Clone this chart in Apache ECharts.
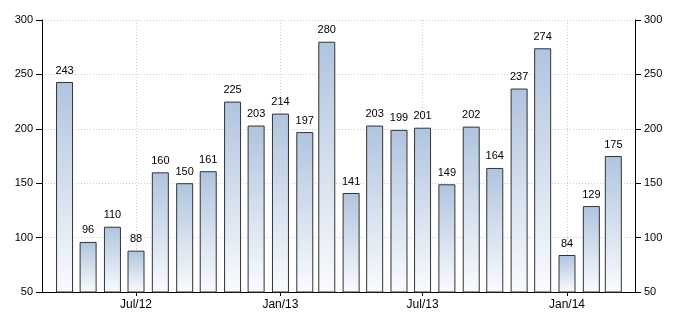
<!DOCTYPE html>
<html>
<head>
<meta charset="utf-8">
<script src="https://cdn.jsdelivr.net/npm/echarts@6/dist/echarts.min.js"></script>
<style>
html,body{margin:0;padding:0;background:#fff;}
#chart{width:691px;height:322px;}
</style>
</head>
<body>
<div id="chart"></div>
<script>
// Data
var months = ['2012-04','2012-05','2012-06','2012-07','2012-08','2012-09','2012-10','2012-11','2012-12',
  '2013-01','2013-02','2013-03','2013-04','2013-05','2013-06','2013-07','2013-08','2013-09','2013-10',
  '2013-11','2013-12','2014-01','2014-02','2014-03'];
var values = [243, 96, 110, 88, 160, 150, 161, 225, 203, 214, 197, 280, 141, 203, 199, 201, 149, 202, 164, 237, 274, 84, 129, 175];
var yTicks = [50, 100, 150, 200, 250, 300];
var monthNames = ['Jan','Feb','Mar','Apr','May','Jun','Jul','Aug','Sep','Oct','Nov','Dec'];

function toTime(m) {
  var p = m.split('-');
  return new Date(+p[0], +p[1] - 1, 1).getTime();
}
var seriesData = months.map(function (m, i) { return [toTime(m), values[i]]; });
var DAY = 86400000;
// ECharts 6 pads a time axis by half a bar on each side; shrink min/max to compensate
var PAD = 10.8 * DAY;
var xMin = new Date(2012, 2, 3, 7).getTime() + PAD;
var xMax = new Date(2014, 2, 28, 14).getTime() - PAD;
var FONT = 'Arial, "Liberation Sans", sans-serif';

var chart = echarts.init(document.getElementById('chart'), null, {renderer: 'canvas'});
var yAxisCommon = {
  type: 'value',
  min: yTicks[0],
  max: yTicks[yTicks.length - 1],
  interval: 50,
  axisLine: {show: true, lineStyle: {color: '#000', width: 1}},
  axisTick: {show: true, length: 6, lineStyle: {color: '#000'}},
  axisLabel: {color: '#000', fontSize: 11, fontFamily: FONT, margin: 9}
};
chart.setOption({
  animation: false,
  backgroundColor: '#fff',
  grid: {left: 42, right: 56, top: 20, bottom: 30, containLabel: false},
  xAxis: {
    type: 'time',
    min: xMin,
    max: xMax,
    minInterval: 182.5 * DAY,
    maxInterval: 182.5 * DAY,
    axisLine: {show: true, onZero: false, lineStyle: {color: '#000', width: 1}},
    axisTick: {show: true, length: 4, lineStyle: {color: '#000'}},
    splitLine: {show: true, lineStyle: {color: '#ccc', type: [1, 2]}},
    minorTick: {show: false},
    axisLabel: {
      color: '#000', fontSize: 12, fontFamily: FONT, margin: 7,
      showMinLabel: false, showMaxLabel: false,
      formatter: function (v) {
        var d = new Date(v);
        return monthNames[d.getMonth()] + '/' + String(d.getFullYear()).slice(2);
      }
    }
  },
  yAxis: [
    Object.assign({}, yAxisCommon, {
      position: 'left',
      splitLine: {show: true, lineStyle: {color: '#ccc', type: [1, 2]}}
    }),
    Object.assign({}, yAxisCommon, {
      position: 'right',
      splitLine: {show: false}
    })
  ],
  series: [{
    type: 'bar',
    yAxisIndex: 0,
    barWidth: 17,
    data: seriesData,
    itemStyle: {
      borderColor: '#333',
      borderWidth: 1,
      color: new echarts.graphic.LinearGradient(0, 0, 0, 1, [
        {offset: 0, color: '#b0c4de'},
        {offset: 1, color: '#fafbfe'}
      ])
    },
    label: {
      show: true, position: 'top', distance: 6,
      color: '#000', fontSize: 11, fontFamily: FONT
    }
  }]
});
</script>
</body>
</html>
